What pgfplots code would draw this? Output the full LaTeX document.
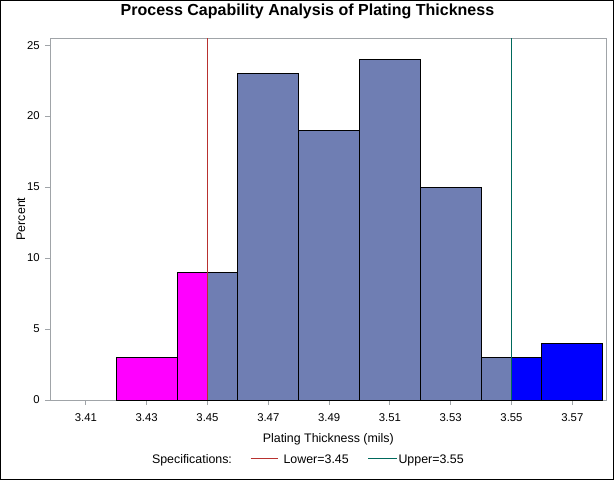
\documentclass[border=0pt]{standalone}
\usepackage{fontspec}
\setmainfont{Liberation Sans}
\usepackage{pgfplots}
\pgfplotsset{compat=1.18}
\definecolor{barfill}{HTML}{6F7EB3}
\definecolor{magfill}{HTML}{FF00FF}
\definecolor{bluefill}{HTML}{0000FF}
\definecolor{lowcol}{HTML}{B8312F}
\definecolor{upcol}{HTML}{00695C}
\definecolor{framegray}{HTML}{A0A4A8}
\begin{document}
\begin{tikzpicture}
\path[use as bounding box] (0,0) rectangle (460.5pt,360pt);
\begin{axis}[
  at={(37.5pt,60pt)}, anchor=south west,
  scale only axis, width=417.5pt, height=271.5pt,
  xmin=3.3982, xmax=3.5813, ymin=0, ymax=25.5,
  xtick={3.41,3.43,3.45,3.47,3.49,3.51,3.53,3.55,3.57},
  xticklabels={3.41,3.43,3.45,3.47,3.49,3.51,3.53,3.55,3.57},
  ytick={0,5,10,15,20,25},
  xtick pos=left, ytick pos=left,
  tick align=outside, major tick length=3.75pt,
  tick style={framegray, line width=0.75pt},
  axis line style={framegray, line width=0.75pt},
  tick label style={font=\fontsize{8.5}{10}\selectfont, text=black},
  xticklabel style={yshift=-3pt},
  yticklabel style={xshift=-0.5pt},
  /pgf/number format/assume math mode=true,
  title={\fontsize{12}{14}\selectfont\bfseries Process Capability Analysis of Plating Thickness},
  every axis title/.style={at={(axis description cs:0.4625,1.0608)}, anchor=base},
  xlabel={\fontsize{9.3}{11}\selectfont Plating Thickness (mils)},
  every axis x label/.style={at={(axis description cs:0.5,-0.1169)}, anchor=base},
  ylabel={\fontsize{9.3}{11}\selectfont Percent},
  every axis y label/.style={at={(axis description cs:-0.0449,0.5)}, anchor=base, rotate=90},
]
\addplot[ybar interval, fill=magfill, draw=black, line width=0.75pt] coordinates {(3.42,3) (3.44,9) (3.45,9)};
\addplot[ybar interval, fill=barfill, draw=black, line width=0.75pt] coordinates {(3.45,9) (3.46,23) (3.48,19) (3.50,24) (3.52,15) (3.54,3) (3.55,3)};
\addplot[ybar interval, fill=bluefill, draw=black, line width=0.75pt] coordinates {(3.55,3) (3.56,4) (3.58,4)};
\addplot[draw=lowcol, line width=0.9pt] coordinates {(3.45,0) (3.45,25.5)};
\addplot[draw=upcol, line width=0.9pt] coordinates {(3.55,0) (3.55,25.5)};
\end{axis}
\begin{scope}[every node/.style={inner sep=0pt, font=\fontsize{9.3}{11}\selectfont}]
\node[anchor=base west] at (113.8pt,12.5pt) {Specifications:};
\draw[lowcol, line width=0.8pt] (188pt,16pt) -- (208.7pt,16pt);
\node[anchor=base west] at (212.5pt,12.5pt) {Lower=3.45};
\draw[upcol, line width=0.8pt] (276.2pt,16pt) -- (297.5pt,16pt);
\node[anchor=base west] at (298.7pt,12.5pt) {Upper=3.55};
\end{scope}
\draw[black, line width=1pt] (0.5pt,0.5pt) rectangle (460pt,359.5pt);
\end{tikzpicture}
\end{document}
